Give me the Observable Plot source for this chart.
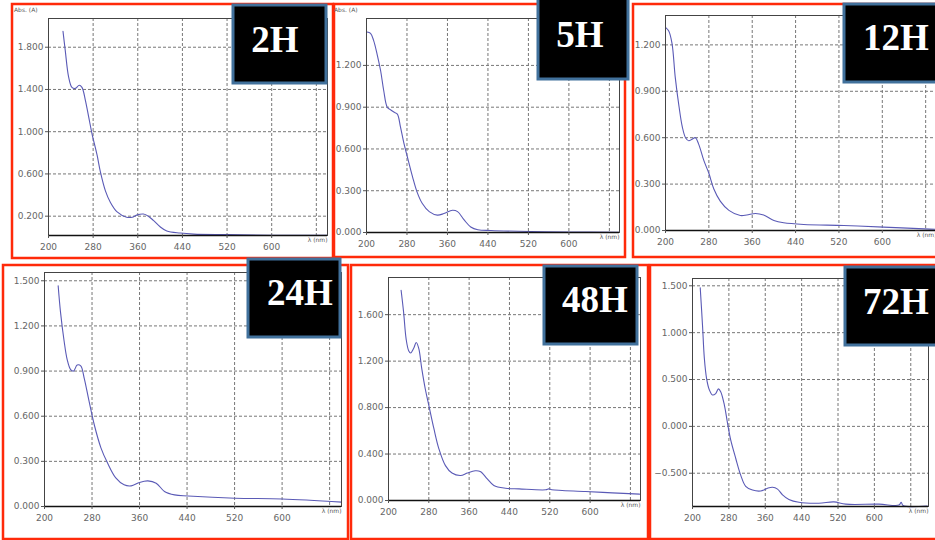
<!DOCTYPE html>
<html><head><meta charset="utf-8">
<script src="https://cdn.jsdelivr.net/npm/d3@7"></script>
<script src="https://cdn.jsdelivr.net/npm/@observablehq/plot@0.6"></script>
<style>
html,body{margin:0;padding:0;background:#fff;overflow:hidden;width:935px;height:540px}
#root{position:relative;width:935px;height:540px;overflow:hidden}
</style></head><body><div id="root"></div><script>
// ---- data ----
const xTicks = [200, 280, 360, 440, 520, 600];
const xGrid = [280, 360, 440, 520, 600, 680];
const xLabel = "λ (nm)";
const yLabel = "Abs. (A)";
const panelNames = ["2H", "5H", "12H", "24H", "48H", "72H"];

const wl2H = [226,230,236,242,248,255,260,266,272,278,287,293,302,311,323,340,350,358,370,379,388,400,412,436,460,520,600,700];
const abs2H = [1.95,1.77,1.52,1.42,1.41,1.44,1.42,1.30,1.14,0.98,0.78,0.62,0.44,0.33,0.24,0.19,0.19,0.21,0.22,0.20,0.16,0.10,0.06,0.04,0.03,0.025,0.02,0.018];
const yTicks2H = [0.2, 0.6, 1.0, 1.4, 1.8];

const wl5H = [201,208,214,221,228,234,241,248,254,261,267,274,281,291,300,310,324,340,353,370,380,393,406,420,446,525,600,700];
const abs5H = [1.44,1.43,1.38,1.28,1.16,1.02,0.90,0.88,0.865,0.85,0.76,0.64,0.54,0.40,0.29,0.21,0.15,0.125,0.136,0.16,0.15,0.09,0.04,0.02,0.014,0.007,0.004,0.002];
const yTicks5H = [0, 0.3, 0.6, 0.9, 1.2];

const wl12H = [201,206,212,218,225,231,237,243,249,255,261,271,280,289,301,317,338,350,366,381,400,418,455,529,602,688,700];
const abs12H = [1.31,1.29,1.21,0.99,0.80,0.67,0.60,0.58,0.59,0.60,0.56,0.45,0.37,0.27,0.19,0.13,0.097,0.10,0.11,0.10,0.065,0.05,0.039,0.032,0.022,0.009,0.008];
const yTicks12H = [0, 0.3, 0.6, 0.9, 1.2];

const wl24H = [223,227,233,238,244,249,255,261,267,275,284,295,306,320,334,346,360,374,388,402,419,442,521,600,700];
const abs24H = [1.467,1.29,1.10,0.98,0.91,0.90,0.94,0.935,0.85,0.70,0.54,0.39,0.29,0.19,0.144,0.137,0.16,0.17,0.155,0.10,0.077,0.07,0.055,0.05,0.029];
const yTicks24H = [0, 0.3, 0.6, 0.9, 1.2, 1.5];

const wl48H = [225,230,235,240,244,250,255,260,266,273,280,290,300,313,326,343,356,372,382,396,409,432,459,512,518,524,591,644,698];
const abs48H = [1.81,1.62,1.39,1.29,1.27,1.31,1.36,1.31,1.135,0.96,0.82,0.62,0.445,0.30,0.236,0.215,0.236,0.256,0.25,0.187,0.13,0.106,0.10,0.092,0.10,0.093,0.078,0.066,0.055];
const yTicks48H = [0, 0.4, 0.8, 1.2, 1.6];

const wl72H = [217,222,226,231,237,244,251,257,262,270,277,284,295,306,317,332,350,365,376,387,398,412,434,478,511,537,610,654,659,663,716];
const abs72H = [1.48,1.08,0.73,0.51,0.39,0.335,0.35,0.40,0.37,0.23,0.035,-0.145,-0.34,-0.52,-0.64,-0.68,-0.69,-0.66,-0.65,-0.67,-0.73,-0.78,-0.81,-0.82,-0.806,-0.83,-0.83,-0.84,-0.81,-0.845,-0.85];
const yTicks72H = [-0.5, 0, 0.5, 1.0, 1.5];

// ---- layout (positions / styles) ----
const layout = [
  {wl: wl2H, ab: abs2H, yt: yTicks2H, frame: [48,18,327,235], xd: [200,700], yd: [0.017,2.072], border: [12,4,333,258], tag: [233,5,326,83], tagText: [275,52], absAt: [14,12]},
  {wl: wl5H, ab: abs5H, yt: yTicks5H, frame: [366,18,619,232], xd: [200,700], yd: [0,1.537], border: [334,4,625,257], tag: [538,-2,628,79], tagText: [580,47], absAt: [334,12]},
  {wl: wl12H, ab: abs12H, yt: yTicks12H, frame: [665,15,936,230], xd: [200,700], yd: [0,1.39], border: [633,4,945,257], tag: [844,4,945,82], tagText: [896,50]},
  {wl: wl24H, ab: abs24H, yt: yTicks24H, frame: [44,272,341,506], xd: [200,700], yd: [0,1.555], border: [3,265,348,539], tag: [248,259,340,337], tagText: [300,305]},
  {wl: wl48H, ab: abs48H, yt: yTicks48H, frame: [388,277,640,500], xd: [200,700], yd: [0,1.92], border: [351,265,648,539], tag: [544,266,637,344], tagText: [595,312]},
  {wl: wl72H, ab: abs72H, yt: yTicks72H, frame: [692,278,928,506], xd: [200,719], yd: [-0.855,1.578], border: [650,265,945,539], tag: [845,267,945,345], tagText: [896,314]}
];

const root = document.getElementById("root");
const fmt = d3.format(".3f");
const mL = 42, mR = 14, mT = 6, mB = 24;

// red borders underneath
const under = d3.select(root).append("svg").attr("width",935).attr("height",540)
  .style("position","absolute").style("left","0px").style("top","0px");
layout.forEach(p => {
  const [x0,y0,x1,y1] = p.border;
  under.append("rect").attr("x",x0).attr("y",y0).attr("width",x1-x0).attr("height",y1-y0)
    .attr("fill","none").attr("stroke","#ff2a0a").attr("stroke-width",2.5);
});

layout.forEach(p => {
  const [L,T,R,B] = p.frame;
  const data = p.wl.map((w,i) => ({w, a: p.ab[i]}));
  const svg = Plot.plot({
    width: R-L+mL+mR, height: B-T+mT+mB,
    marginLeft: mL, marginRight: mR, marginTop: mT, marginBottom: mB,
    style: {background: "transparent", fontFamily: "DejaVu Sans, sans-serif", fontSize: "9px", color: "#666", overflow: "visible"},
    x: {domain: p.xd},
    y: {domain: p.yd},
    marks: [
      Plot.gridX(xGrid.filter(d => d < p.xd[1]), {stroke: "#777", strokeOpacity: 1, strokeDasharray: "3,2"}),
      Plot.gridY(p.yt.filter(d => d > p.yd[0]), {stroke: "#777", strokeOpacity: 1, strokeDasharray: "3,2"}),
      Plot.line(data, {x: "w", y: "a", stroke: "#5a5ab6", strokeWidth: 1.1, curve: "catmull-rom"}),
      Plot.frame({stroke: "#444"}),
      Plot.ruleY([p.yd[0]], {stroke: "#111", strokeWidth: 1.5}),
      Plot.axisX(xTicks, {tickSize: 3, tickPadding: 5, tickFormat: d => String(d), label: null, stroke: "#555"}),
      Plot.axisY(p.yt, {tickSize: 3, tickPadding: 2, tickFormat: fmt, label: null, stroke: "#555"}),
      Plot.text([xLabel], {text: d => d, frameAnchor: "bottom-right", dy: 6, fontSize: 6, fill: "#555"})
    ]
  });
  svg.style.position = "absolute";
  svg.style.left = (L - mL) + "px";
  svg.style.top = (T - mT) + "px";
  svg.style.maxWidth = "none";
  root.appendChild(svg);
});

// tags and small labels on top
const over = d3.select(root).append("svg").attr("width",935).attr("height",540)
  .style("position","absolute").style("left","0px").style("top","0px");
layout.forEach((p, i) => {
  const [x0,y0,x1,y1] = p.tag;
  over.append("rect").attr("x",x0).attr("y",y0).attr("width",x1-x0).attr("height",y1-y0)
    .attr("fill","#000").attr("stroke","#41719c").attr("stroke-width",3);
  over.append("text").attr("x",p.tagText[0]).attr("y",p.tagText[1]).attr("text-anchor","middle")
    .attr("fill","#fff").attr("font-family","Liberation Serif, serif").attr("font-weight","bold")
    .attr("font-size",37).text(panelNames[i]);
  if (p.absAt) {
    over.append("text").attr("x",p.absAt[0]).attr("y",p.absAt[1]).attr("fill","#555")
      .attr("font-family","DejaVu Sans, sans-serif").attr("font-size",6).text(yLabel);
  }
});
</script></body></html>
